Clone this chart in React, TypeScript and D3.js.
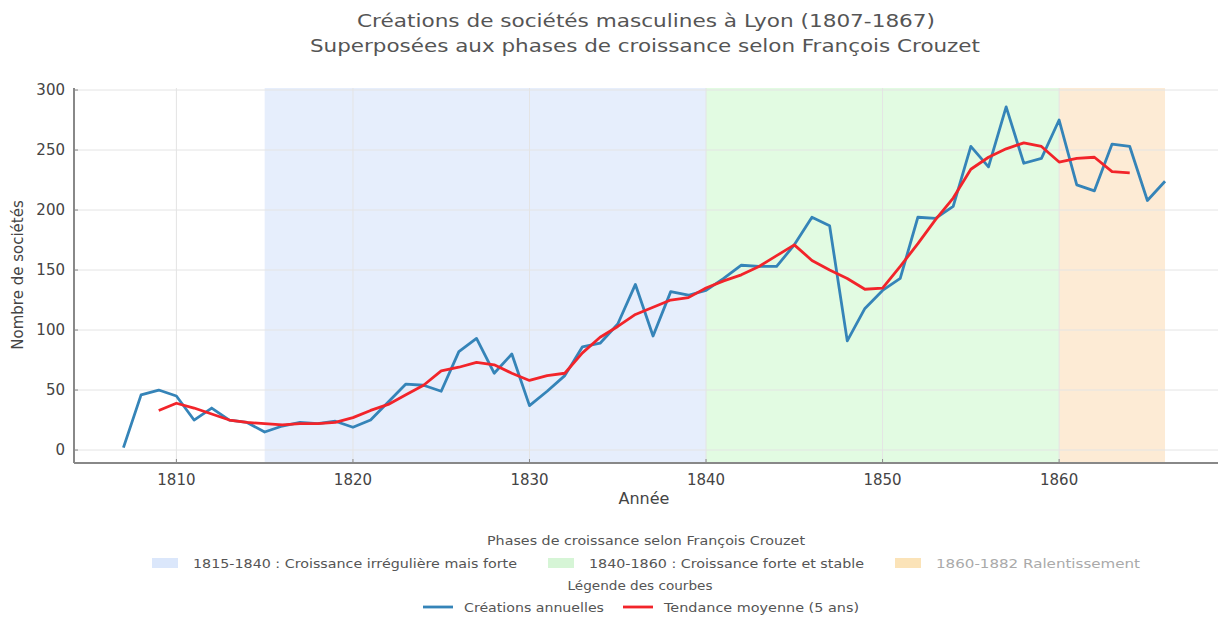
import React from "react";
import * as d3 from "d3";

const years = d3.range(1807, 1867);
const annual = [
  2, 46, 50, 45, 25, 35, 25, 23, 15, 20,
  23, 22, 24, 19, 25, 40, 55, 54, 49, 82,
  93, 64, 80, 37, 49, 62, 86, 89, 105, 138,
  95, 132, 129, 133, 143, 154, 153, 153, 171, 194,
  187, 91, 118, 133, 143, 194, 193, 203, 253, 236,
  286, 239, 243, 275, 221, 216, 255, 253, 208, 224,
];
const trendYears = d3.range(1809, 1865);
const trend = [
  33, 39, 35, 30, 25, 23, 22, 21, 22, 22,
  23, 27, 33, 38, 46, 54, 66, 69, 73, 71,
  64, 58, 62, 64, 81, 94, 103, 113, 119, 125,
  127, 135, 141, 146, 153, 162, 171, 158, 150, 143,
  134, 135, 153, 172, 192, 210, 234, 244, 251, 256,
  253, 240, 243, 244, 232, 231,
];
const phases = [
  { start: 1815, end: 1840, label: "1815-1840 : Croissance irrégulière mais forte", fill: "#e6eefc", legendFill: "#dbe7fb", text: "#555" },
  { start: 1840, end: 1860, label: "1840-1860 : Croissance forte et stable", fill: "#e2fbe2", legendFill: "#d6f5d6", text: "#555" },
  { start: 1860, end: 1866, label: "1860-1882 Ralentissement", fill: "#fdebd5", legendFill: "#fbe3b8", text: "#aaa" },
];
const xTicks = [1810, 1820, 1830, 1840, 1850, 1860];
const yTicks = [0, 50, 100, 150, 200, 250, 300];
const series = [
  { label: "Créations annuelles", color: "#3584b8" },
  { label: "Tendance moyenne (5 ans)", color: "#f2242a" },
];

export default function App() {
  const W = 1224, H = 618;
  const left = 74, right = 1218, top = 88, bottom = 463;
  const x = d3.scaleLinear().domain([1804.2, 1869]).range([left, right]);
  const y = d3.scaleLinear().domain([-10.8, 301.7]).range([bottom, top]);
  const line = d3.line<number>().x((_, i) => x(years[i])).y((d) => y(d));
  const tline = d3.line<number>().x((_, i) => x(trendYears[i])).y((d) => y(d));
  const font = "'DejaVu Sans', sans-serif";
  const legX = [152, 548, 895];
  const legW = [324, 275, 204];
  const serX = [423, 623];
  const serW = [140, 195];
  return (
    <svg width={W} height={H} style={{ position: "absolute", left: 0, top: 0, background: "#fff" }} fontFamily={font}>
      <text x={646} y={27} textAnchor="middle" fontSize={18} fill="#555" textLength={578} lengthAdjust="spacingAndGlyphs">Créations de sociétés masculines à Lyon (1807-1867)</text>
      <text x={645} y={52} textAnchor="middle" fontSize={18} fill="#555" textLength={670} lengthAdjust="spacingAndGlyphs">Superposées aux phases de croissance selon François Crouzet</text>
      {phases.map((p) => (
        <rect key={p.label} x={x(p.start)} y={top} width={x(p.end) - x(p.start)} height={bottom - top} fill={p.fill} />
      ))}
      {yTicks.map((t) => (
        <g key={t}>
          <line x1={left} x2={right} y1={y(t)} y2={y(t)} stroke="#e4e4e4" strokeWidth={1} />
          <line x1={left} x2={left + 4} y1={y(t)} y2={y(t)} stroke="#888" />
          <text x={65} y={y(t) + 5} textAnchor="end" fontSize={15} fill="#444">{t}</text>
        </g>
      ))}
      {xTicks.map((t) => (
        <g key={t}>
          <line x1={x(t)} x2={x(t)} y1={top} y2={bottom} stroke="#e4e4e4" strokeWidth={1} />
          <line x1={x(t)} x2={x(t)} y1={bottom} y2={bottom - 4} stroke="#888" />
          <text x={x(t)} y={485} textAnchor="middle" fontSize={15} fill="#444">{t}</text>
        </g>
      ))}
      <line x1={left} x2={left} y1={top} y2={bottom} stroke="#888" strokeWidth={2} />
      <line x1={left} x2={right} y1={bottom} y2={bottom} stroke="#888" strokeWidth={2} />
      <path d={line(annual) || ""} fill="none" stroke={series[0].color} strokeWidth={2.8} strokeLinejoin="round" />
      <path d={tline(trend) || ""} fill="none" stroke={series[1].color} strokeWidth={2.8} strokeLinejoin="round" />
      <text x={644} y={504} textAnchor="middle" fontSize={16} fill="#444">Année</text>
      <text transform="translate(23,275) rotate(-90)" textAnchor="middle" fontSize={15} fill="#444">Nombre de sociétés</text>
      <text x={646} y={545} textAnchor="middle" fontSize={12.5} fill="#555" textLength={318} lengthAdjust="spacingAndGlyphs">Phases de croissance selon François Crouzet</text>
      {phases.map((p, i) => (
        <g key={p.label}>
          <rect x={legX[i]} y={558} width={26} height={10} fill={p.legendFill} />
          <text x={legX[i] + 41} y={568} fontSize={12.5} fill={p.text} textLength={legW[i]} lengthAdjust="spacingAndGlyphs">{p.label}</text>
        </g>
      ))}
      <text x={640} y={590} textAnchor="middle" fontSize={12.5} fill="#555" textLength={145} lengthAdjust="spacingAndGlyphs">Légende des courbes</text>
      {series.map((s, i) => (
        <g key={s.label}>
          <line x1={serX[i]} x2={serX[i] + 30} y1={607} y2={607} stroke={s.color} strokeWidth={2.8} />
          <text x={serX[i] + 41} y={612} fontSize={12.5} fill="#555" textLength={serW[i]} lengthAdjust="spacingAndGlyphs">{s.label}</text>
        </g>
      ))}
    </svg>
  );
}
